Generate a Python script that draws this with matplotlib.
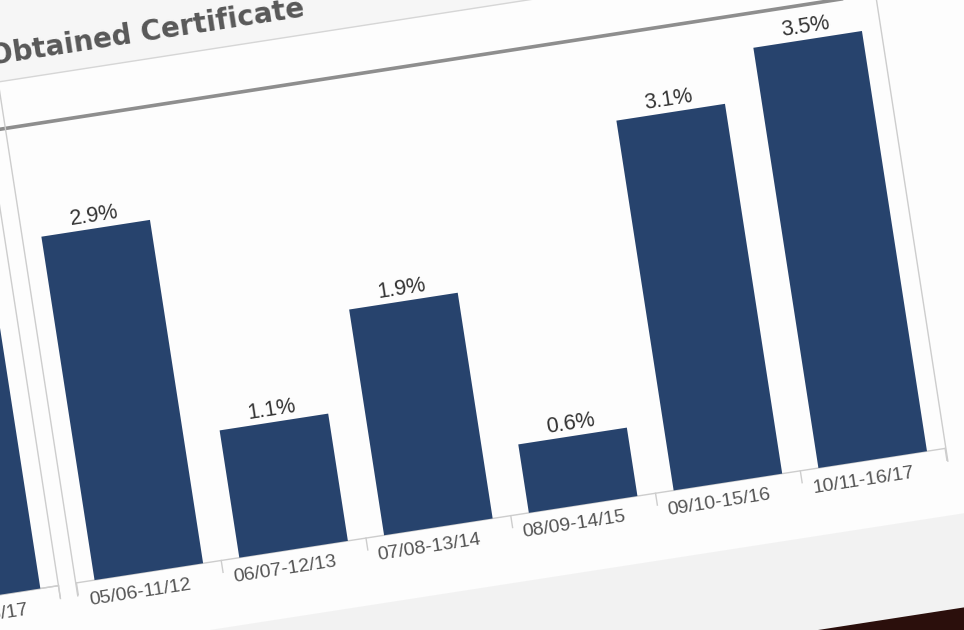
import matplotlib
matplotlib.use('Agg')
import matplotlib.pyplot as plt
from matplotlib.patches import Rectangle
from matplotlib.transforms import Affine2D

# values (labels show them rounded to one decimal)
periods = ['05/06-11/12', '06/07-12/13', '07/08-13/14', '08/09-14/15', '09/10-15/16', '10/11-16/17']
certificate_pct = [2.86, 1.06, 1.88, 0.57, 3.08, 3.5]

# neighbouring pane, only its last bar is in the shot
prev_periods = ['10/11-16/17']
prev_pct = [2.6]

title = 'Obtained Certificate'

BAR = '#27436d'
ANGLE = 8.8          # the screenshot is tilted
PX_PER_PCT = 121.5
BASE = 112           # baseline height (px, before tilt)
TOP = 619            # pane top border (px, before tilt)
CAT_W = 146.5        # px per category

fig = plt.figure(figsize=(9.64, 6.3), dpi=100)
fig.patch.set_facecolor('#fcfcfc')

# rotation in display pixels, applied on top of every transform
tilt = Affine2D().rotate_deg_around(480, 315, ANGLE)

# page background, frames and title (pixel units before tilt)
bg = fig.add_axes([0, 0, 1, 1], zorder=-1)
bg.set_xlim(0, 964)
bg.set_ylim(0, 630)
bg.axis('off')

bg.add_patch(Rectangle((-400, 45), 1800, TOP - 45, color='#fdfdfd', transform=tilt, clip_on=False, lw=0))
bg.add_patch(Rectangle((-400, TOP), 1800, 300, color='#f6f6f6', transform=tilt, clip_on=False, lw=0))
bg.add_patch(Rectangle((-400, -48), 1800, 93, color='#f2f2f2', transform=tilt, clip_on=False, lw=0))
bg.add_patch(Rectangle((-400, -500), 1800, 452, color='#2b0f0c', transform=tilt, clip_on=False, lw=0))

grey = '#cdcdcd'
bg.plot([-400, 921], [TOP, TOP], color='#d6d6d6', lw=1, transform=tilt, clip_on=False)
bg.plot([-400, 921], [572, 572], color='#8e8e8e', lw=2.6, transform=tilt, clip_on=False)
for xb in [22, 39.5, 920]:
    bg.plot([xb, xb], [99, TOP], color=grey, lw=1, transform=tilt, clip_on=False)
bg.plot([-400, 22], [BASE, BASE], color=grey, lw=1, transform=tilt, clip_on=False)

bg.text(35, 637, title, transform=tilt, rotation=ANGLE, rotation_mode='anchor',
        ha='left', va='baseline', fontsize=20, fontweight='bold', color='#585858',
        family='DejaVu Sans')


def draw_pane(left_px, labels, values):
    n = len(labels)
    ax = fig.add_axes([left_px / 964, BASE / 630, CAT_W * n / 964, (TOP - BASE) / 630])
    ax.set_xlim(-0.5, n - 0.5)
    ax.set_ylim(0, (TOP - BASE) / PX_PER_PCT)
    ax.set_autoscale_on(False)
    ax.axis('off')
    rot = ax.transData + tilt

    bars = ax.bar(range(n), values, width=0.75, color=BAR, linewidth=0, zorder=3)
    for b in bars:
        b.set_transform(rot)
        b.set_clip_on(False)

    # baseline and category separators
    ax.plot([-0.5, n - 0.5], [0, 0], color=grey, lw=1, transform=rot, clip_on=False)
    for k in range(n + 1):
        ax.plot([k - 0.5, k - 0.5], [0, -12 / PX_PER_PCT], color=grey, lw=1,
                transform=rot, clip_on=False)

    value_shift = ax.transData + Affine2D().translate(0, 7) + tilt
    label_shift = ax.transData + Affine2D().translate(-12, -19) + tilt
    for i, (lab, v) in enumerate(zip(labels, values)):
        ax.text(i, v, f'{v:.1f}%', transform=value_shift,
                ha='center', va='baseline', rotation=ANGLE, rotation_mode='anchor',
                fontsize=15.5, color='#333333', family=['Liberation Sans', 'DejaVu Sans'],
                clip_on=False)
        ax.text(i, 0, lab, transform=label_shift,
                ha='center', va='center', rotation=ANGLE, rotation_mode='anchor',
                fontsize=14, color='#555555', family=['Liberation Sans', 'DejaVu Sans'],
                clip_on=False)
    return ax


draw_pane(22 - CAT_W * len(prev_periods), prev_periods, prev_pct)
draw_pane(40.2, periods, certificate_pct)

fig.savefig('out.png', dpi=100, facecolor=fig.get_facecolor())
